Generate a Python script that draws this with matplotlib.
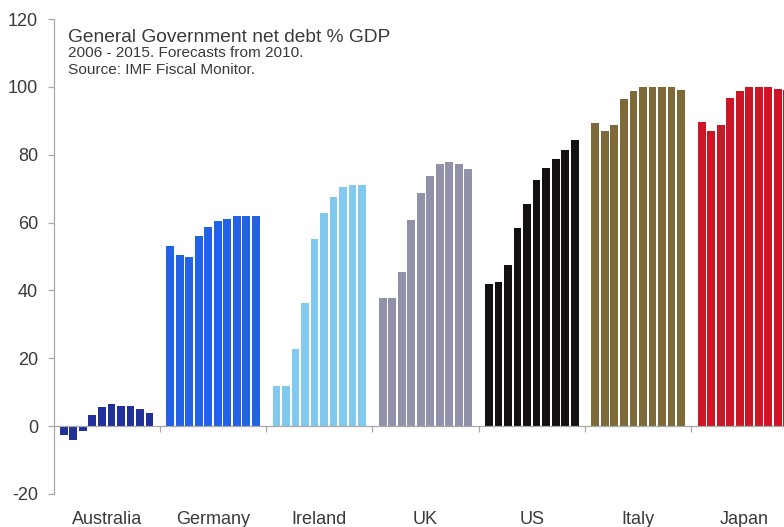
import numpy as np
import matplotlib
matplotlib.use("Agg")
import matplotlib.pyplot as plt

# General government net debt, % of GDP, 2006-2015 (IMF Fiscal Monitor)
countries = ["Australia", "Germany", "Ireland", "UK", "US", "Italy", "Japan"]
years = list(range(2006, 2016))

australia = [-2.7, -4.0, -1.3, 3.2, 5.6, 6.4, 6.0, 5.8, 5.2, 3.9]
germany = [53.1, 50.4, 49.8, 56.1, 58.7, 60.4, 61.2, 61.9, 61.9, 61.9]
ireland = [11.9, 11.9, 22.8, 36.3, 55.1, 62.8, 67.4, 70.4, 71.2, 71.0]
uk = [37.9, 37.9, 45.4, 60.9, 68.7, 73.8, 77.3, 77.9, 77.4, 75.8]
us = [41.9, 42.4, 47.4, 58.5, 65.5, 72.6, 76.0, 78.7, 81.4, 84.4]
italy = [89.4, 87.0, 88.8, 96.5, 98.8, 100.1, 100.1, 100.1, 99.9, 99.2]
japan = [89.5, 86.9, 88.8, 96.6, 98.7, 100.0, 100.0, 100.0, 99.5, 99.2]

series = [australia, germany, ireland, uk, us, italy, japan]
colors = ["#22309a", "#2162e6", "#82c9ef", "#9291aa", "#141012", "#7e6a38", "#cc1626"]

yticks = [-20, 0, 20, 40, 60, 80, 100, 120]

text_color = "#3a3a3a"
axis_color = "#a8a8a8"
font = "Liberation Sans"

fig = plt.figure(figsize=(7.84, 5.27), dpi=100)
fig.patch.set_facecolor("white")

# the plot area runs slightly past the right edge of the canvas
left_px, right_px = 53.5, 797.6
bottom_px, top_px = 494.0, 19.0
W, H = 784.0, 527.0
ax = fig.add_axes([left_px / W, 1 - bottom_px / H,
                   (right_px - left_px) / W, (bottom_px - top_px) / H])

n_years = len(years)
slot = 0.894 / n_years
bar_w = slot * 0.82
for i, (vals, col) in enumerate(zip(series, colors)):
    xs = i + (np.arange(n_years) - (n_years - 1) / 2) * slot
    ax.bar(xs, vals, width=bar_w, color=col, linewidth=0, zorder=2)

ax.set_xlim(-0.5, len(countries) - 0.5)
ax.set_ylim(-20, 120)

# axes styling
for side in ("top", "right"):
    ax.spines[side].set_visible(False)
ax.spines["left"].set_color(axis_color)
ax.spines["left"].set_linewidth(0.9)
ax.spines["bottom"].set_position(("data", 0))
ax.spines["bottom"].set_color(axis_color)
ax.spines["bottom"].set_linewidth(0.9)
ax.spines["bottom"].set_zorder(3)

ax.set_yticks(yticks)
ax.set_yticklabels([str(v) for v in yticks], fontsize=13, color=text_color,
                   fontfamily=font)
ax.tick_params(axis="y", direction="out", length=4, width=0.9,
               color=axis_color, pad=7)

ax.set_xticks(np.arange(len(countries)) + 0.5)
ax.set_xticklabels([])
ax.tick_params(axis="x", direction="out", length=4, width=0.9,
               color=axis_color)

# category names sit below the plot area
for i, name in enumerate(countries):
    ax.annotate(name, xy=(i, 1 - 524 / H), xycoords=("data", "figure fraction"),
                ha="center", va="baseline", fontsize=13, color=text_color,
                fontfamily=font, annotation_clip=False)

# title block
fig.text(68 / W, 1 - 41.7 / H, "General Government net debt % GDP",
         fontsize=13.8, color=text_color, fontfamily=font, va="baseline")
fig.text(68 / W, 1 - 57 / H, "2006 - 2015. Forecasts from 2010.",
         fontsize=11.1, color=text_color, fontfamily=font, va="baseline")
fig.text(68 / W, 1 - 74.5 / H, "Source: IMF Fiscal Monitor.",
         fontsize=11.1, color=text_color, fontfamily=font, va="baseline")

fig.savefig("out.png", dpi=100, facecolor="white")
